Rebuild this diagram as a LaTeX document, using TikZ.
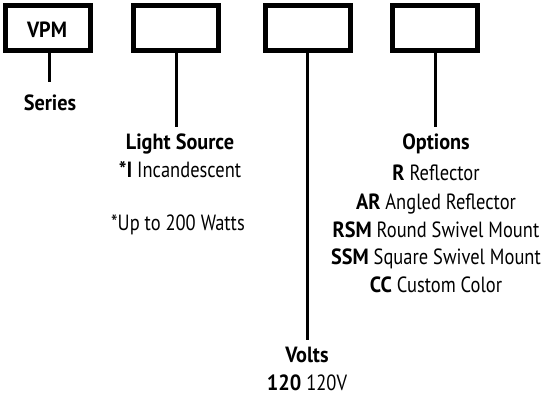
\documentclass[tikz,border=0pt]{standalone}
\usepackage{fontspec}
\setmainfont{PT Sans}[FakeStretch=0.84,BoldFeatures={FakeStretch=0.92}]
\begin{document}
\begin{tikzpicture}[x=1pt,y=1pt,
  codebox/.style={draw,line width=5pt,minimum width=85pt,minimum height=45pt,inner sep=0pt,outer sep=auto},
  conn/.style={line width=3pt},
  lbl/.style={anchor=base,inner sep=0pt,font=\fontsize{22}{26}\selectfont}]
\useasboundingbox (0,0) rectangle (543,-399);
\node[codebox] (b1) at (48,-28) {};
\node[codebox] (b2) at (176,-28) {};
\node[codebox] (b3) at (307.5,-28) {};
\node[codebox] (b4) at (435,-28) {};
\node[lbl] (vpm) at (47,-37) {\bfseries VPM};
% Series
\coordinate (e1) at (49,-82);
\draw[conn] (b1.south -| e1) -- (e1);
\node[lbl] (series) at (50,-110) {\bfseries Series};
% Light source
\coordinate (e2) at (176,-127);
\draw[conn] (b2.south) -- (e2);
\node[lbl] (ls) at (180,-149) {\bfseries Light Source};
\node[lbl] (inc) at (180,-177) {\textbf{*I} Incandescent};
\node[lbl] (note) at (178,-230) {*Up to 200 Watts};
% Volts
\coordinate (e3) at (307.5,-340);
\draw[conn] (b3.south) -- (e3);
\node[lbl] (volts) at (307,-362) {\bfseries Volts};
\node[lbl] (v120) at (307,-390) {\textbf{120} 120V};
% Options
\coordinate (e4) at (435,-127);
\draw[conn] (b4.south) -- (e4);
\node[lbl] (opt) at (436,-149) {\bfseries Options};
\node[lbl] (o1) at (436,-180) {\textbf{R} Reflector};
\node[lbl] (o2) at (436,-209) {\textbf{AR} Angled Reflector};
\node[lbl] (o3) at (436,-237) {\textbf{RSM} Round Swivel Mount};
\node[lbl] (o4) at (436,-264) {\textbf{SSM} Square Swivel Mount};
\node[lbl] (o5) at (436,-292) {\textbf{CC} Custom Color};
\end{tikzpicture}
\end{document}
